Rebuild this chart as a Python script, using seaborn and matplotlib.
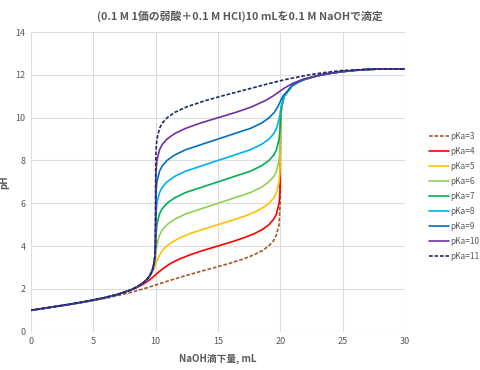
import matplotlib
matplotlib.use("Agg")
import matplotlib.pyplot as plt
import seaborn as sns
import pandas as pd

# ---- data ----
HEAD_V = [0, 1, 2, 3, 4, 5, 6, 7, 8]
HEAD_PH = [1.00, 1.09, 1.18, 1.27, 1.37, 1.48, 1.60, 1.75, 1.95]

TAIL_V = [21.5, 22, 23, 24, 25, 26, 27, 28, 30]
TAIL_PH = [11.68, 11.80, 11.96, 12.07, 12.15, 12.21, 12.25, 12.27, 12.28]

v_pka3 = [0, 2.36, 4.48, 6.29, 7.78, 9.01, 10.10, 11.17, 12.29, 13.50, 14.75, 15.97,
          17.05, 17.92, 18.59, 19.06, 19.45, 19.67, 19.90, 19.99, 20.0, 20.01, 20.03,
          20.10, 20.30, 20.96]
ph_pka3 = [1.00, 1.2, 1.4, 1.6, 1.8, 2.0, 2.2, 2.4, 2.6, 2.8, 3.0, 3.2,
           3.4, 3.6, 3.8, 4.0, 4.25, 4.5, 5.0, 6.0, 7.76, 9.5, 10.0,
           10.5, 11.0, 11.5]

v_pka4 = [8.27, 8.96, 9.47, 9.88, 10.27, 10.70, 11.23, 11.92, 12.79, 13.83, 14.98,
          16.12, 17.14, 17.99, 18.63, 19.09, 19.46, 19.69, 19.90, 19.97, 19.99, 20.0,
          20.01, 20.03, 20.10, 20.30, 20.96]
ph_pka4 = [2.0, 2.2, 2.4, 2.6, 2.8, 3.0, 3.2, 3.4, 3.6, 3.8, 4.0,
           4.2, 4.4, 4.6, 4.8, 5.0, 5.25, 5.5, 6.0, 6.5, 7.0, 8.26,
           9.5, 10.0, 10.5, 11.0, 11.5]

v_pka5 = [8.5, 9.0, 9.42, 9.71, 9.90, 10.03, 10.17, 10.33, 10.56, 10.89, 11.36, 12.0,
          12.84, 13.87, 15.0, 16.13, 17.15, 17.99, 18.63, 19.09, 19.47, 19.69, 19.90,
          19.97, 19.99, 20.0, 20.01, 20.03, 20.10, 20.30, 20.96]
ph_pka5 = [2.09, 2.27, 2.5, 2.75, 3.0, 3.2, 3.4, 3.6, 3.8, 4.0, 4.2, 4.4,
           4.6, 4.8, 5.0, 5.2, 5.4, 5.6, 5.8, 6.0, 6.25, 6.5, 7.0,
           7.5, 8.0, 8.76, 9.5, 10.0, 10.5, 11.0, 11.5]

v_pka6 = [8.5, 9.0, 9.3, 9.5, 9.7, 9.81, 9.91, 9.97, 10.08, 10.30, 10.53, 10.91, 11.51,
          12.40, 15.0, 17.60, 18.49, 19.09, 19.47, 19.69, 19.90, 19.97, 19.99, 20.0,
          20.006, 20.03, 20.10, 20.30, 20.96]
ph_pka6 = [2.09, 2.28, 2.44, 2.59, 2.81, 3.0, 3.25, 3.5, 4.0, 4.5, 4.75, 5.0, 5.25,
           5.5, 6.0, 6.5, 6.75, 7.0, 7.25, 7.5, 8.0, 8.5, 9.0, 9.26,
           9.5, 10.0, 10.5, 11.0, 11.5]

v_pka7 = [8.5, 9.0, 9.3, 9.5, 9.7, 9.8, 9.9, 9.95, 9.97, 9.99, 10.025, 10.10, 10.30,
          10.53, 10.91, 11.51, 12.40, 15.0, 17.60, 18.49, 19.09, 19.47, 19.69, 19.90,
          19.98, 20.0, 20.02, 20.09, 20.30, 20.96]
ph_pka7 = [2.09, 2.28, 2.44, 2.59, 2.82, 2.99, 3.29, 3.57, 3.75, 4.0, 4.5, 5.0, 5.5,
           5.75, 6.0, 6.25, 6.5, 7.0, 7.5, 7.75, 8.0, 8.25, 8.5, 9.0,
           9.5, 9.76, 10.0, 10.5, 11.0, 11.5]

v_pka8 = [8.5, 9.0, 9.3, 9.5, 9.7, 9.8, 9.9, 9.95, 9.98, 9.997, 10.008, 10.031, 10.099,
          10.31, 10.53, 10.91, 11.51, 12.40, 15.0, 17.60, 18.49, 19.09, 19.47, 19.70,
          19.93, 20.0, 20.06, 20.29, 20.97]
ph_pka8 = [2.09, 2.28, 2.44, 2.59, 2.82, 3.0, 3.30, 3.60, 4.0, 4.5, 5.0, 5.5, 6.0,
           6.5, 6.75, 7.0, 7.25, 7.5, 8.0, 8.5, 8.75, 9.0, 9.25, 9.5,
           10.0, 10.26, 10.5, 11.0, 11.5]

v_pka9 = [8.5, 9.0, 9.3, 9.5, 9.7, 9.8, 9.9, 9.95, 9.98, 9.999, 10.003, 10.01, 10.03,
          10.10, 10.31, 10.53, 10.91, 11.51, 12.40, 15.0, 17.61, 18.51, 19.12, 19.52,
          19.79, 20.0, 20.20, 20.95]
ph_pka9 = [2.09, 2.28, 2.44, 2.59, 2.82, 3.0, 3.30, 3.60, 4.0, 5.0, 5.5, 6.0, 6.5,
           7.0, 7.5, 7.75, 8.0, 8.25, 8.5, 9.0, 9.5, 9.75, 10.0, 10.25,
           10.5, 10.76, 11.0, 11.5]

v_pka10 = [8.5, 9.0, 9.3, 9.5, 9.7, 9.8, 9.9, 9.95, 9.98, 9.999, 10.001, 10.003, 10.01,
           10.03, 10.10, 10.31, 10.53, 10.91, 11.51, 12.41, 13.61, 15.03, 16.45, 17.69,
           18.81, 19.39, 19.88, 20.38, 20.99, 21.85, 23.22, 24.86, 26, 27, 28, 30]
ph_pka10 = [2.09, 2.28, 2.44, 2.59, 2.82, 3.0, 3.30, 3.60, 4.0, 5.0, 6.0, 6.5, 7.0,
            7.5, 8.0, 8.5, 8.75, 9.0, 9.25, 9.5, 9.75, 10.0, 10.25, 10.5,
            10.8, 11.0, 11.2, 11.4, 11.6, 11.8, 12.0, 12.15, 12.21, 12.25, 12.27, 12.28]

v_pka11 = [8.5, 9.0, 9.3, 9.5, 9.7, 9.8, 9.9, 9.95, 9.98, 10.0, 10.001, 10.01, 10.032,
           10.10, 10.31, 10.54, 10.93, 11.55, 12.47, 14.02, 15.25, 16.55, 17.85, 19.15,
           20.56, 22.32, 23.48, 24.94, 26, 27, 28, 30]
ph_pka11 = [2.09, 2.28, 2.44, 2.59, 2.82, 3.0, 3.30, 3.60, 4.0, 6.15, 7.0, 8.0, 8.5,
            9.0, 9.5, 9.75, 10.0, 10.25, 10.5, 10.8, 11.0, 11.2, 11.4, 11.6,
            11.8, 12.0, 12.1, 12.2, 12.23, 12.26, 12.27, 12.28]

labels = ["pKa=3", "pKa=4", "pKa=5", "pKa=6", "pKa=7", "pKa=8", "pKa=9", "pKa=10", "pKa=11"]
colors = ["#9E5A2A", "#FF0000", "#FFC000", "#92D050", "#00B050", "#00B0F0", "#0070C0",
          "#7030A0", "#1F2A66"]

title = "(0.1 M 1価の弱酸＋0.1 M HCl)10 mLを0.1 M NaOHで滴定"
xlabel = "NaOH滴下量, mL"
ylabel = "pH"

# ---- build series ----
series = [
    (v_pka3 + TAIL_V, ph_pka3 + TAIL_PH),
    (HEAD_V + v_pka4 + TAIL_V, HEAD_PH + ph_pka4 + TAIL_PH),
    (HEAD_V + v_pka5 + TAIL_V, HEAD_PH + ph_pka5 + TAIL_PH),
    (HEAD_V + v_pka6 + TAIL_V, HEAD_PH + ph_pka6 + TAIL_PH),
    (HEAD_V + v_pka7 + TAIL_V, HEAD_PH + ph_pka7 + TAIL_PH),
    (HEAD_V + v_pka8 + TAIL_V, HEAD_PH + ph_pka8 + TAIL_PH),
    (HEAD_V + v_pka9 + TAIL_V, HEAD_PH + ph_pka9 + TAIL_PH),
    (HEAD_V + v_pka10, HEAD_PH + ph_pka10),
    (HEAD_V + v_pka11, HEAD_PH + ph_pka11),
]

sns.set_theme(style="white")
plt.rcParams["font.family"] = ["Noto Sans CJK JP", "DejaVu Sans"]
TXT = "#595959"

fig = plt.figure(figsize=(4.8, 3.7), dpi=100)
ax = fig.add_axes([31 / 480, 1 - 331.7 / 370, (405 - 31) / 480, (331.7 - 32) / 370])

for i in range(9):
    vx, py = series[i]
    df = pd.DataFrame({"v": vx, "pH": py})
    ls = (0, (2.2, 1.1)) if labels[i] in ("pKa=3", "pKa=11") else "-"
    sns.lineplot(data=df, x="v", y="pH", ax=ax, color=colors[i], linewidth=1.2,
                 linestyle=ls, estimator=None, sort=False, label=labels[i])

ax.set_xlim(0, 30)
ax.set_ylim(0, 14)
ax.set_xticks(range(0, 31, 5))
ax.set_yticks(range(0, 15, 2))
ax.grid(True, color="#DDDDDD", linewidth=0.8)
ax.set_axisbelow(True)
for s in ax.spines.values():
    s.set_visible(False)
ax.tick_params(length=0, labelsize=6.5, colors=TXT, pad=4)

ax.set_xlabel(xlabel, fontsize=7, fontweight="bold", color=TXT)
ax.xaxis.set_label_coords(0.5, -0.075)
ax.set_ylabel(ylabel, fontsize=7, fontweight="bold", color=TXT)
ax.yaxis.set_label_coords(-0.058, 0.5)
fig.suptitle(title, fontsize=7.8, fontweight="bold", color=TXT, x=0.5, y=0.972)

if ax.legend_:
    ax.legend_.remove()
h, l = ax.get_legend_handles_labels()
fig.legend(h, l, loc="center left", bbox_to_anchor=(0.886, 0.47), frameon=False,
           fontsize=6, labelcolor=TXT, handlelength=2.4, handletextpad=0.2,
           labelspacing=0.72, borderaxespad=0)

fig.savefig("out.png", dpi=100)
